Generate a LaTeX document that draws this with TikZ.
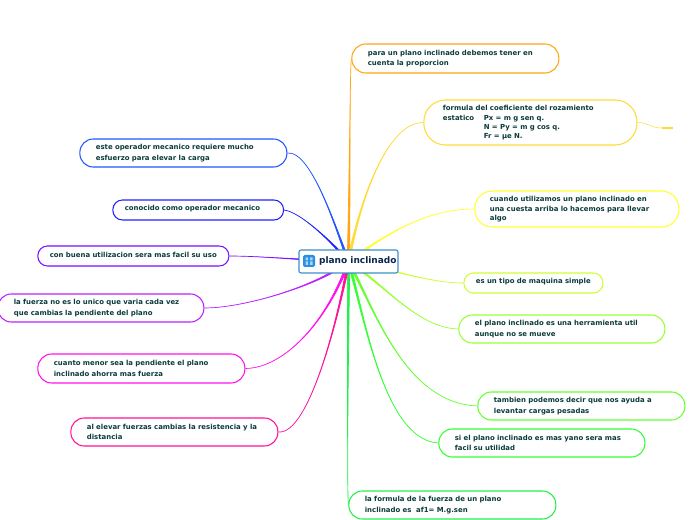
\documentclass[tikz,border=0pt]{standalone}
\usepackage{fontspec}
\setmainfont{DejaVu Sans}
\usetikzlibrary{backgrounds, calc}
\definecolor{textoverde}{HTML}{0B3B3B}
\definecolor{textoraiz}{HTML}{0A2550}
\definecolor{bordeoraiz}{HTML}{3D8FCB}
\definecolor{iconoazul}{HTML}{2B8FE0}
\definecolor{iconoclaro}{HTML}{A8D6F7}
\definecolor{naranja}{HTML}{FFA611}
\definecolor{oro}{HTML}{FFDB3A}
\definecolor{amarillo}{HTML}{FFFF33}
\definecolor{lima}{HTML}{CCFF33}
\definecolor{limaverde}{HTML}{99FF33}
\definecolor{verdeclaro}{HTML}{66FF33}
\definecolor{verde}{HTML}{33FF33}
\definecolor{verdepuro}{HTML}{22F04A}
\definecolor{azul}{HTML}{2255FF}
\definecolor{azulosc}{HTML}{2222FF}
\definecolor{violeta}{HTML}{7711FF}
\definecolor{purpura}{HTML}{BB22FF}
\definecolor{magenta1}{HTML}{FF11EE}
\definecolor{rosa}{HTML}{FF1199}
\tikzset{
  rama/.style n args={4}{rectangle, rounded corners=#3*0.36pt, draw=#1, fill=white,
    text=textoverde, font=\fontsize{5.2pt}{6.6pt}\selectfont\bfseries, align=left, anchor=west,
    inner xsep=#4*0.75pt, inner ysep=0pt, text width=#2*0.75pt-#4*1.5pt, minimum height=#3*0.75pt,
    line width=0.8pt, xshift=-0.5pt, execute at begin node=\vspace*{1.4pt}},
  raiz/.style={rectangle, rounded corners=1.5pt, draw=bordeoraiz, fill=white, text=textoraiz,
    font=\fontsize{6.75pt}{8pt}\selectfont\bfseries, minimum width=74.25pt, minimum height=17.25pt,
    line width=0.8pt, inner sep=0pt, align=left},
  enlace/.style={line width=0.5pt, draw=#1, fill=#1}
}
% rama curve from the root: wide at the root, thin at the far end
\newcommand{\enlacerama}[4]{
  \draw[enlace=#1] ($(root.center)!1pt!90:(#2)$) .. controls (#2) and (#3) .. (#4)
    .. controls (#3) and (#2) .. ($(root.center)!1pt!-90:(#2)$) -- cycle;
}
\begin{document}
\begin{tikzpicture}[x=0.75pt, y=-0.75pt]
  \useasboundingbox (0,0) rectangle (696,520);

  \node[raiz] (root) at (348.5,261.5) {\hspace*{14pt}plano inclinado};
  \node[rectangle, rounded corners=1.2pt, fill=iconoazul, minimum size=9pt, inner sep=0pt] (icono) at (309,261) {};
  \fill[iconoclaro] (305.5,257.5) rectangle (308,260.5) (310,257.5) rectangle (312.5,260.5)
    (305.5,261.5) rectangle (308,265) (310,261.5) rectangle (312.5,265);

  \node[rama={naranja}{207}{29}{16}] (prop) at (352,58.5) {para un plano inclinado debemos tener en\\cuenta la proporcion};
  \node[rama={oro}{213}{45}{19}] (formula) at (424,122.5) {formula del coeficiente del rozamiento\\
    \makebox[30.75pt][l]{estatico}Px = m g sen q.\\
    \hspace*{30.75pt}N = Py = m g cos q.\\
    \hspace*{30.75pt}Fr = µe N.};
  \node[rama={amarillo}{204}{36}{15}] (cuesta) at (475,209) {cuando utilizamos un plano inclinado en\\una cuesta arriba lo hacemos para llevar\\algo};
  \node[rama={lima}{139}{20}{12}] (maquina) at (464,283) {es un tipo de maquina simple};
  \node[rama={limaverde}{206}{28}{16}] (herram) at (459,329) {el plano inclinado es una herramienta util\\aunque no se mueve};
  \node[rama={verdeclaro}{207}{28}{16}] (cargas) at (478,406) {tambien podemos decir que nos ayuda a\\levantar cargas pesadas};
  \node[rama={verde}{206}{28}{16}] (yano) at (439,443) {si el plano inclinado es mas yano sera mas\\facil su utilidad};
  \node[rama={verdepuro}{207}{28}{16}] (fuerza) at (349,505) {la formula de la fuerza de un plano\\inclinado es\ \ af1= M.g.sen};

  \node[rama={azul}{207}{28}{16}] (esfuerzo) at (80,153) {este operador mecanico requiere mucho\\esfuerzo para elevar la carga};
  \node[rama={azulosc}{159}{20}{6}, text width=110pt, inner xsep=9pt] (operador) at (113,210) {conocido como operador mecanico};
  \node[rama={violeta}{191}{20}{12}] (uso) at (38,256) {con buena utilizacion sera mas facil su uso};
  \node[rama={purpura}{206}{28}{16}] (pendiente) at (-2,308) {la fuerza no es lo unico que varia cada vez\\que cambias la pendiente del plano};
  \node[rama={magenta1}{207}{29}{16}] (menor) at (38,368.5) {cuanto menor sea la pendiente el plano\\inclinado ahorra mas fuerza};
  \node[rama={rosa}{207}{28}{16}] (elevar) at (71,432) {al elevar fuerzas cambias la resistencia y la\\distancia};

  \coordinate (cola) at (662,128);
  \coordinate (colafin) at (673,128);
  \draw[oro, line width=0.4pt] (formula.east) .. controls (648,122) and (650,128) .. (cola);
  \draw[oro, line width=1pt] (cola) -- (colafin);

  \begin{scope}[on background layer]
    \enlacerama{naranja}{350,150}{350,70}{prop.west}
    \enlacerama{oro}{362,190}{390,122}{formula.west}
    \enlacerama{amarillo}{385,235}{425,209}{cuesta.west}
    \enlacerama{lima}{395,270}{430,283}{maquina.west}
    \enlacerama{limaverde}{385,285}{418,328}{herram.west}
    \enlacerama{verdeclaro}{375,310}{405,403}{cargas.west}
    \enlacerama{verde}{365,320}{385,440}{yano.west}
    \enlacerama{verdepuro}{348,380}{347,480}{fuerza.west}
    \enlacerama{azul}{338,235}{312,150}{esfuerzo.east}
    \enlacerama{azulosc}{330,240}{300,212}{operador.east}
    \enlacerama{violeta}{300,260}{260,256}{uso.east}
    \enlacerama{purpura}{320,285}{245,308}{pendiente.east}
    \enlacerama{magenta1}{328,320}{285,368}{menor.east}
    \enlacerama{rosa}{340,310}{310,435}{elevar.east}
  \end{scope}
\end{tikzpicture}
\end{document}
